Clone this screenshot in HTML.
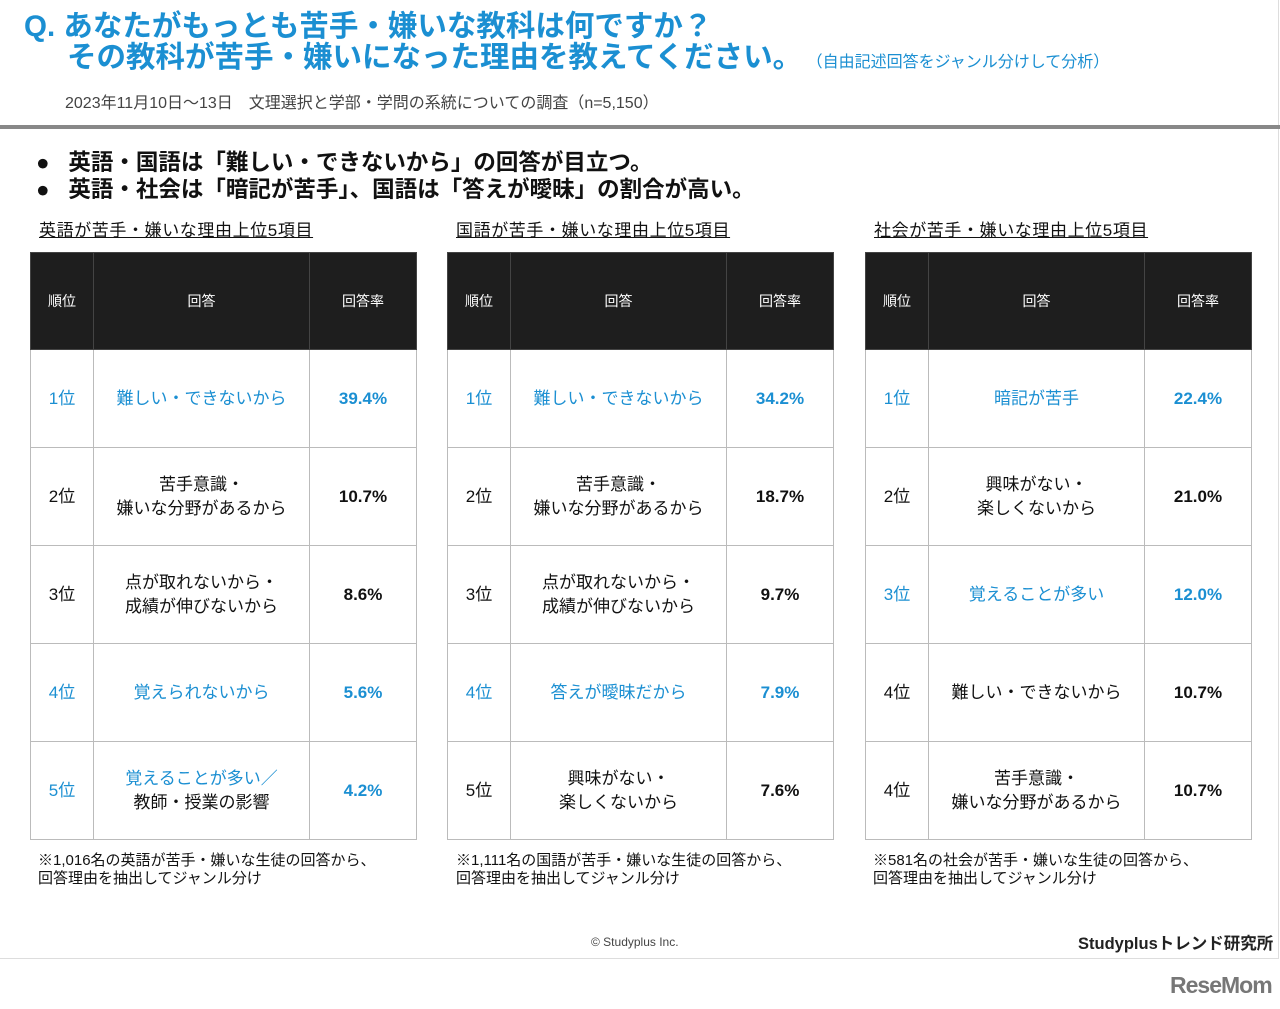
<!DOCTYPE html>
<html><head><meta charset="utf-8">
<style>
*{margin:0;padding:0;box-sizing:border-box}
body{width:1280px;height:1009px;background:#fff;position:relative;overflow:hidden;font-family:"Liberation Sans","Noto Sans CJK JP",sans-serif;color:#111}
.abs{position:absolute;white-space:nowrap}
.blue{color:#1b8fd2}
table{position:absolute;border-collapse:collapse;table-layout:fixed}
td,th{border:1px solid #bbb;text-align:center;vertical-align:middle;font-size:17px;height:98px;line-height:24px}
th{background:#1e1e1e;color:#fff;font-weight:normal;font-size:14px;border-color:#444;height:97px}
td.r{font-weight:bold}
.cap{font-size:17px;letter-spacing:0.6px;text-decoration:underline;color:#111}
.note{font-size:15px;line-height:18px}
</style></head><body>
<div style="position:absolute;left:0;top:0;width:1279px;height:959px;border-right:1px solid #ddd;border-bottom:1px solid #ddd"></div>
<div class="abs blue" style="left:24px;top:11px;font-size:29.5px;font-weight:bold;line-height:31px">Q. あなたがもっとも苦手・嫌いな教科は何ですか？</div>
<div class="abs blue" style="left:67px;top:42px;font-size:29.5px;font-weight:bold;line-height:31px">その教科が苦手・嫌いになった理由を教えてください。<span style="font-size:16px;font-weight:normal">&nbsp;（自由記述回答をジャンル分けして分析）</span></div>
<div class="abs" style="left:65px;top:89px;font-size:16px;color:#444">2023年11月10日〜13日　文理選択と学部・学問の系統についての調査（n=5,150）</div>
<div style="position:absolute;left:0;top:125px;width:1280px;height:4px;background:#888"></div>
<div class="abs" style="left:36px;top:149px;font-size:22.5px;font-weight:bold;line-height:27px">●&nbsp;&nbsp;&nbsp;英語・国語は「難しい・できないから」の回答が目立つ。<br>●&nbsp;&nbsp;&nbsp;英語・社会は「暗記が苦手」、国語は「答えが曖昧」の割合が高い。</div>

<div class="abs cap" style="left:39px;top:216px">英語が苦手・嫌いな理由上位5項目</div>
<div class="abs cap" style="left:456px;top:216px">国語が苦手・嫌いな理由上位5項目</div>
<div class="abs cap" style="left:874px;top:216px">社会が苦手・嫌いな理由上位5項目</div>

<table style="left:30px;top:252px;width:386px">
<colgroup><col style="width:63px"><col style="width:216px"><col style="width:107px"></colgroup>
<tr><th>順位</th><th>回答</th><th>回答率</th></tr>
<tr class="blue"><td>1位</td><td>難しい・できないから</td><td class="r">39.4%</td></tr>
<tr><td>2位</td><td>苦手意識・<br>嫌いな分野があるから</td><td class="r">10.7%</td></tr>
<tr><td>3位</td><td>点が取れないから・<br>成績が伸びないから</td><td class="r">8.6%</td></tr>
<tr class="blue"><td>4位</td><td>覚えられないから</td><td class="r">5.6%</td></tr>
<tr><td class="blue">5位</td><td><span class="blue">覚えることが多い／</span><br>教師・授業の影響</td><td class="r blue">4.2%</td></tr>
</table>
<table style="left:447px;top:252px;width:386px">
<colgroup><col style="width:63px"><col style="width:216px"><col style="width:107px"></colgroup>
<tr><th>順位</th><th>回答</th><th>回答率</th></tr>
<tr class="blue"><td>1位</td><td>難しい・できないから</td><td class="r">34.2%</td></tr>
<tr><td>2位</td><td>苦手意識・<br>嫌いな分野があるから</td><td class="r">18.7%</td></tr>
<tr><td>3位</td><td>点が取れないから・<br>成績が伸びないから</td><td class="r">9.7%</td></tr>
<tr class="blue"><td>4位</td><td>答えが曖昧だから</td><td class="r">7.9%</td></tr>
<tr><td>5位</td><td>興味がない・<br>楽しくないから</td><td class="r">7.6%</td></tr>
</table>
<table style="left:865px;top:252px;width:386px">
<colgroup><col style="width:63px"><col style="width:216px"><col style="width:107px"></colgroup>
<tr><th>順位</th><th>回答</th><th>回答率</th></tr>
<tr class="blue"><td>1位</td><td>暗記が苦手</td><td class="r">22.4%</td></tr>
<tr><td>2位</td><td>興味がない・<br>楽しくないから</td><td class="r">21.0%</td></tr>
<tr class="blue"><td>3位</td><td>覚えることが多い</td><td class="r">12.0%</td></tr>
<tr><td>4位</td><td>難しい・できないから</td><td class="r">10.7%</td></tr>
<tr><td>4位</td><td>苦手意識・<br>嫌いな分野があるから</td><td class="r">10.7%</td></tr>
</table>

<div class="abs note" style="left:38px;top:852px">※1,016名の英語が苦手・嫌いな生徒の回答から、<br>回答理由を抽出してジャンル分け</div>
<div class="abs note" style="left:456px;top:852px">※1,111名の国語が苦手・嫌いな生徒の回答から、<br>回答理由を抽出してジャンル分け</div>
<div class="abs note" style="left:873px;top:852px">※581名の社会が苦手・嫌いな生徒の回答から、<br>回答理由を抽出してジャンル分け</div>
<div class="abs" style="left:591px;top:935px;font-size:12px;color:#444">© Studyplus Inc.</div>
<div class="abs" style="left:1078px;top:930px;font-size:16.5px;font-weight:bold;color:#222">Studyplusトレンド研究所</div>
<div class="abs" style="left:1170px;top:972px;font-size:23px;font-weight:bold;color:#777;letter-spacing:-1px">ReseMom</div>
</body></html>
